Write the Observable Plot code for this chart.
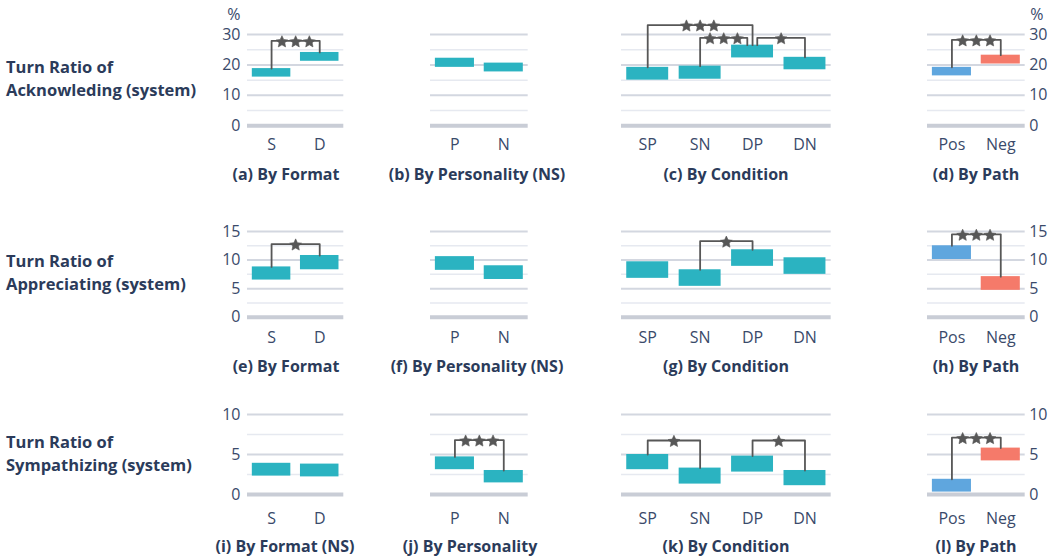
<!DOCTYPE html>
<html><head><meta charset="utf-8">
<script src="https://cdn.jsdelivr.net/npm/d3@7"></script>
<script src="https://cdn.jsdelivr.net/npm/@observablehq/plot@0.6"></script>
<style>
body{margin:0;background:#fff;overflow:hidden}
#chart{position:relative;width:1058px;height:560px;font-family:"Open Sans",sans-serif;color:#2b3b5a}
.rowlabel{position:absolute;left:6px;font-size:16.5px;font-weight:700;line-height:23px;white-space:nowrap}
.title{position:absolute;font-size:16px;font-weight:700;white-space:nowrap;transform:translate(-50%,-50%)}
.panel{position:absolute}
</style></head><body><div id="chart"></div>
<script>
// ---------- data ----------
const formatCats = ["S", "D"];
const personalityCats = ["P", "N"];
const conditionCats = ["SP", "SN", "DP", "DN"];
const pathCats = ["Pos", "Neg"];

const rowLabels = [
  ["Turn Ratio of", "Acknowleding (system)"],
  ["Turn Ratio of", "Appreciating (system)"],
  ["Turn Ratio of", "Sympathizing (system)"]
];
const panelTitles = [
  ["(a)", "By Format"], ["(b)", "By Personality (NS)"], ["(c)", "By Condition"], ["(d)", "By Path"],
  ["(e)", "By Format"], ["(f)", "By Personality (NS)"], ["(g)", "By Condition"], ["(h)", "By Path"],
  ["(i)", "By Format (NS)"], ["(j)", "By Personality"], ["(k)", "By Condition"], ["(l)", "By Path"]
];
const yTicksAck = [0, 10, 20, 30];
const yTicksApp = [0, 5, 10, 15];
const yTicksSym = [0, 5, 10];
const yMinorAck = [5, 15, 25];
const yMinorApp = [2.5, 7.5, 12.5];
const yMinorSym = [2.5, 7.5];
const unitLabel = "%";

// Acknowledging (interval low / high)
const ackFormatLow = [16.0, 21.2],  ackFormatHigh = [18.8, 24.1];
const ackPersLow   = [19.2, 17.7],  ackPersHigh   = [22.2, 20.6];
const ackCondLow   = [15.0, 15.3, 22.3, 18.4], ackCondHigh = [19.2, 19.6, 26.5, 22.5];
const ackPathLow   = [16.4, 20.3],  ackPathHigh   = [19.2, 23.2];
// Appreciating
const appFormatLow = [6.5, 8.3],    appFormatHigh = [8.8, 10.8];
const appPersLow   = [8.2, 6.6],    appPersHigh   = [10.6, 9.0];
const appCondLow   = [6.8, 5.4, 8.9, 7.5], appCondHigh = [9.7, 8.3, 11.8, 10.4];
const appPathLow   = [10.1, 4.7],   appPathHigh   = [12.5, 7.1];
// Sympathizing
const symFormatLow = [2.3, 2.2],    symFormatHigh = [3.9, 3.8];
const symPersLow   = [3.1, 1.45],   symPersHigh   = [4.7, 3.0];
const symCondLow   = [3.1, 1.3, 2.8, 1.1], symCondHigh = [5.0, 3.3, 4.8, 3.0];
const symPathLow   = [0.3, 4.2],    symPathHigh   = [1.9, 5.8];

// significance brackets: [from, to, level, stars]
const ackFormatSig = [["S", "D", 27.9, 3]];
const ackPersSig = [];
const ackCondSig = [["SP", "DP", 33.1, 3], ["SN", "DP", 28.9, 3], ["DP", "DN", 28.9, 1]];
const ackPathSig = [["Pos", "Neg", 28.2, 3]];
const appFormatSig = [["S", "D", 12.8, 1]];
const appPersSig = [];
const appCondSig = [["SN", "DP", 13.3, 1]];
const appPathSig = [["Pos", "Neg", 14.5, 3]];
const symFormatSig = [];
const symPersSig = [["P", "N", 6.8, 3]];
const symCondSig = [["SP", "SN", 6.75, 1], ["DP", "DN", 6.75, 1]];
const symPathSig = [["Pos", "Neg", 7.1, 3]];

// ---------- layout / style ----------
const teal = "#2bb3c1", blue = "#5fa6de", salmon = "#f57a6a";
const tickColor = "#3a4a6a", sigColor = "#575757";
const cols = [[246.7, 343], [430, 527.7], [621, 830.7], [927.3, 1025]];
const rows = [
  {top: 34, zero: 125.3, pad: 12.5, titleY: 174, labelY: 66, max: 30, ticks: yTicksAck, minor: yMinorAck},
  {top: 231, zero: 316.7, pad: 14.8, titleY: 366, labelY: 260, max: 15, ticks: yTicksApp, minor: yMinorApp},
  {top: 414.3, zero: 494.3, pad: 18.2, titleY: 546, labelY: 441, max: 10, ticks: yTicksSym, minor: yMinorSym}
];
const titleX = [286, 477, 726, 976, 286, 477, 726, 976, 285, 470, 726, 976];
const starGap = 13.7; // px between stars

// five-pointed star symbol (outer radius = r)
const star5 = {
  draw(context, size) {
    const R = Math.sqrt(size / Math.PI), ri = R * 0.48;
    for (let k = 0; k < 10; k++) {
      const a = -Math.PI / 2 + k * Math.PI / 5, rr = k % 2 ? ri : R;
      const px = rr * Math.cos(a), py = rr * Math.sin(a);
      k ? context.lineTo(px, py) : context.moveTo(px, py);
    }
    context.closePath();
  }
};

const colCats = [formatCats, personalityCats, conditionCats, pathCats];
const lows = [
  [ackFormatLow, ackPersLow, ackCondLow, ackPathLow],
  [appFormatLow, appPersLow, appCondLow, appPathLow],
  [symFormatLow, symPersLow, symCondLow, symPathLow]
];
const highs = [
  [ackFormatHigh, ackPersHigh, ackCondHigh, ackPathHigh],
  [appFormatHigh, appPersHigh, appCondHigh, appPathHigh],
  [symFormatHigh, symPersHigh, symCondHigh, symPathHigh]
];
const sigs = [
  [ackFormatSig, ackPersSig, ackCondSig, ackPathSig],
  [appFormatSig, appPersSig, appCondSig, appPathSig],
  [symFormatSig, symPersSig, symCondSig, symPathSig]
];

const chart = document.getElementById("chart");

rows.forEach((row, r) => {
  const lab = document.createElement("div");
  lab.className = "rowlabel";
  lab.style.top = (row.labelY - 11.5) + "px";
  lab.innerHTML = rowLabels[r].join("<br>");
  chart.appendChild(lab);

  cols.forEach(([fx0, fx1], c) => {
    const cats = colCats[c];
    const n = cats.length;
    const idx = d3.range(n);
    const bars = idx.map(i => ({i, cat: cats[i], low: lows[r][c][i], high: highs[r][c][i]}));
    const fill = c === 3 ? (d => d.cat === "Pos" ? blue : salmon) : teal;
    const fw = fx1 - fx0, fh = row.zero - row.top;
    const pxPerUnit = fw / n;

    // brackets
    const sig = sigs[r][c];
    const lines = [], stars = [];
    sig.forEach(([a, b, level, count], k) => {
      const ia = cats.indexOf(a), ib = cats.indexOf(b);
      const shared = (cat) => sig.some((s, kk) => kk !== k && s[2] === level && (s[0] === cat || s[1] === cat));
      const xa = ia + (shared(a) ? 0.09 : 0);
      const xb = ib - (shared(b) ? 0.1 : 0);
      const ha = highs[r][c][ia], hb = highs[r][c][ib];
      lines.push({k, x: xa, y: ha}, {k, x: xa, y: level}, {k, x: xb, y: level}, {k, x: xb, y: hb});
      const mid = (xa + xb) / 2;
      for (let j = 0; j < count; j++) {
        stars.push({x: mid + (j - (count - 1) / 2) * starGap / pxPerUnit, y: level});
      }
    });

    const mL = 45, mR = c === 3 ? 33 : 40, mT = 34, mB = 46;
    const marks = [
      Plot.gridY(row.minor, {stroke: "#e6e9f0", strokeOpacity: 1, strokeWidth: 1.5}),
      Plot.gridY(row.ticks.filter(t => t !== 0), {stroke: "#d3d7e0", strokeOpacity: 1, strokeWidth: 2}),
      Plot.ruleY([0], {stroke: "#c9cdd6", strokeWidth: 4}),
      Plot.rect(bars, {x1: d => d.i - 0.4, x2: d => d.i + 0.4, y1: "low", y2: "high", fill}),
      Plot.axisX(idx, {tickFormat: i => cats[i], tickSize: 0, tickPadding: row.pad, fontSize: 16, fill: tickColor, label: null}),
      Plot.line(lines, {x: "x", y: "y", z: "k", stroke: sigColor, strokeWidth: 1.8, curve: "linear"}),
      Plot.dot(stars, {x: "x", y: "y", symbol: star5, r: 6.2, fill: sigColor, stroke: sigColor, strokeWidth: 0.6, strokeLinejoin: "round", dy: 1})
    ];
    if (c === 0) {
      marks.push(Plot.axisY(row.ticks, {anchor: "left", tickSize: 0, tickPadding: 7, fontSize: 16, fill: tickColor, label: null}));
      if (r === 0) marks.push(Plot.text([unitLabel], {frameAnchor: "top-left", textAnchor: "end", lineAnchor: "middle", dx: -7, dy: -20, fontSize: 16, fill: tickColor}));
    }
    if (c === 3) {
      marks.push(Plot.axisY(row.ticks, {anchor: "right", tickSize: 0, tickPadding: 4, fontSize: 16, fill: tickColor, label: null}));
      if (r === 0) marks.push(Plot.text([unitLabel], {frameAnchor: "top-right", textAnchor: "start", lineAnchor: "middle", dx: 5, dy: -20, fontSize: 16, fill: tickColor}));
    }

    const svg = Plot.plot({
      width: fw + mL + mR,
      height: fh + mT + mB,
      marginLeft: mL, marginRight: mR, marginTop: mT, marginBottom: mB,
      x: {type: "linear", domain: [-0.5, n - 0.5], axis: null},
      y: {domain: [0, row.max], axis: null},
      style: {background: "transparent", fontFamily: "Open Sans", fontSize: "16px", color: tickColor, overflow: "visible"},
      marks
    });
    svg.classList.add("panel");
    svg.style.left = (fx0 - mL) + "px";
    svg.style.top = (row.top - mT) + "px";
    svg.style.position = "absolute";
    chart.appendChild(svg);

    const t = document.createElement("div");
    t.className = "title";
    const p = r * 4 + c;
    t.style.left = titleX[p] + "px";
    t.style.top = row.titleY + "px";
    t.textContent = panelTitles[p].join(" ");
    chart.appendChild(t);
  });
});
</script></body></html>
